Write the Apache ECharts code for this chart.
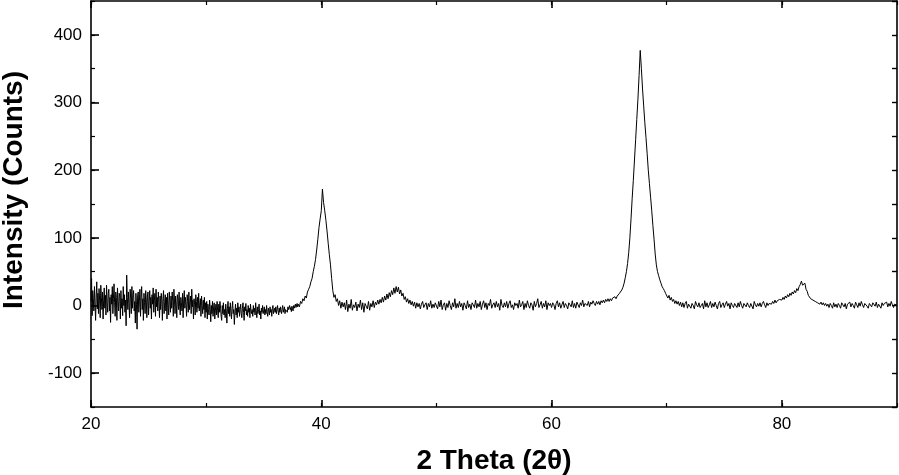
<!DOCTYPE html>
<html>
<head>
<meta charset="utf-8">
<script src="https://cdn.jsdelivr.net/npm/echarts@6.0.0/dist/echarts.min.js"></script>
<style>
html,body{margin:0;padding:0;background:#fff;}
#chart{width:899px;height:475px;}
</style>
</head>
<body>
<div id="chart"></div>
<script>
// Noisy low-angle part of the scan, 0.05° steps (20.00 – 37.95)
const denseStart = 20;
const denseStep = 0.05;
const int20to38 = [
  6, 40, -15, 22, 10, -8, 28, 2, -22, 14, 35, -5, 18, -12, 25, 8, -18, 30, 12, -6,
  20, -20, 8, 26, -4, 15, -14, 30, 5, -10, 18, 24, -8, 12, -25, 16, 2, 28, -12, 10,
  32, 4, -16, 20, 12, -22, 26, 6, -8, 18, 14, -20, 22, -4, 10, -15, 28, 0, 16, -10,
  8, -30, 45, 12, -6, 20, 3, -18, 24, 10, -12, 28, -4, 15, 22, -8, 6, -26, 18, 2,
  -35, 14, 20, -10, 6, 24, -16, 12, 28, -6, 10, -22, 18, 4, -12, 22, 8, -18, 14, 20,
  -14, 6, 22, -4, 12, -20, 16, 2, 26, -10, 8, 18, -16, 24, -2, 12, -8, 20, 4, -18,
  14, -6, 18, 8, -22, 10, 22, -12, 4, 16, -8, 12, -20, 18, 2, -14, 20, 6, -10, 14,
  -4, 20, 6, -16, 24, 8, -12, 14, 2, -18, 16, 10, -6, 20, -2, -14, 12, 4, -8, 18,
  -18, 8, 22, -4, 12, 2, -16, 16, 6, -10, 20, -6, 4, 14, -12, 24, -2, 8, -20, 10,
  2, -14, 16, 6, -10, 12, -4, 18, -8, 2, 10, -16, 14, 0, -12, 8, -6, 12, -18, 4,
  -10, 6, -20, 2, -6, -14, 8, -4, -24, 0, -12, 6, -16, -2, 4, -20, -8, 2, -14, 6,
  -8, -18, 2, -10, 6, -4, -16, -22, 0, -12, 4, -14, -6, -18, 2, -8, -26, -4, 6, -12,
  -2, -16, 4, -8, -20, -4, 6, -12, -6, -28, -10, 2, -14, -4, -18, 4, -10, -2, -16, -6,
  2, -12, -18, -4, 4, -10, -22, -2, -8, 3, -14, -6, -16, 0, -10, -4, -18, 2, -8, -12,
  -6, -16, 0, -10, -4, -14, 4, -8, -18, -2, -12, -6, 2, -14, -8, -20, -4, -10, 0, -12,
  -8, -2, -14, -6, -12, 0, -10, -16, -4, -8, -14, -2, -10, -6, -16, -4, 0, -12, -8, -4,
  -10, -2, -12, -6, 0, -8, -14, -4, -10, -2, -8, -12, -4, 0, -10, -6, -2, -12, -6, -8,
  -4, -10, -2, -6, -8, 0, -6, -3, -9, -1, -5, -8, 0, -4, -6, 2, -3, -1, 3, -2
];

// Rest of the scan, 0.1° steps (38.0 – 90.0)
const coarseStart = 38;
const coarseStep = 0.1;
const int38 = [
  2, -2, 6, 3, 10, 7, 14, 11, 20, 24,
  28, 35, 40, 50, 58, 68, 82, 98, 115, 128
];
const int40 = [
  140, 172, 152, 140, 126, 110, 92, 75, 60, 40,
  22, 12, 16, 6, 10, 0, 7, -4, 5, -2,
  4, -6, 8, -9, 2, -4, 9, -7, 1, -3,
  5, -8, 2, -3, 8, -6, 4, -10, 3, -1,
  -5, 6, -7, 3, -2, 7, -3, 5, 1, 8,
  2, 9, 4, 12, 5, 14, 8, 17, 10, 19,
  13, 22, 16, 26, 18, 28, 20, 27, 17, 23,
  14, 18, 9, 13, 5, 10, 3, 8, 1, 6,
  -1, 5, -4, 4, -2, 3, -5, 2, 6, -3,
  1, 4, -6, 3, -2, 7, -4, 2, -3, 4
];
const int50 = [
  3, -5, 6, -2, 8, -6, 1, 4, -7, 3,
  -3, 7, 0, -6, 4, -2, 10, -4, 3, -3,
  6, -2, 3, -7, 4, 0, -5, 7, -3, 2,
  -6, 4, 1, -3, 8, -4, 3, -2, 6, -6,
  2, 7, -3, 4, -6, 3, 0, 9, -4, 1,
  4, -3, 6, -2, 3, -7, 9, 0, -3, 4,
  -2, 6, -4, 3, 7, -3, 1, -6, 4, 0,
  3, -4, 8, -2, 1, 6, -6, 3, -3, 7,
  0, -4, 4, 1, -7, 6, -2, 3, 10, -3,
  1, 6, -4, 3, -2, 7, -6, 4, 0, 3
];
const int60 = [
  -3, 4, 1, -6, 3, 7, -2, 4, -4, 1,
  6, -3, 3, 0, -5, 4, 1, -2, 7, -3,
  3, -4, 5, 1, -3, 4, 0, 8, -2, 3,
  4, 0, 6, -2, 5, 2, 7, 3, 0, 6,
  2, 6, 1, 7, 4, 8, 4, 9, 6, 10,
  6, 10, 7, 11, 9, 13, 10, 14, 15, 18,
  20, 23, 27, 33, 41, 50, 62, 78, 100, 128,
  158, 185, 215, 245, 275, 305, 340, 377, 350, 320,
  295, 270, 248, 225, 200, 180, 160, 140, 118, 98,
  76, 60, 50, 44, 38, 33, 28, 25, 22, 18
];
const int70 = [
  17, 11, 15, 8, 12, 6, 9, 3, 7, 2,
  6, 0, 5, -2, 4, -3, 3, 6, -4, 2,
  4, -4, 3, 0, -5, 6, 1, -2, 4, -3,
  0, 3, -5, 7, -2, 4, -3, 1, 6, -3,
  3, -2, 5, 0, -5, 3, 6, -3, 1, 4,
  -3, 2, 6, -1, 3, -5, 4, 0, -3, 3,
  1, -3, 4, -2, 6, 0, -4, 3, 1, -2,
  4, 0, -3, 3, 1, -5, 6, 1, -2, 3,
  -1, 4, -2, 3, 6, 1, -3, 4, 0, 3,
  5, 2, 6, 3, 8, 4, 7, 6, 9, 11
];
const int80 = [
  8, 12, 9, 14, 11, 16, 13, 18, 15, 20,
  17, 22, 19, 25, 22, 28, 31, 36, 30, 28,
  33, 24, 21, 15, 14, 10, 11, 8, 9, 6,
  7, 4, 6, 2, 5, 1, 4, 0, 3, -1,
  2, -3, 3, 0, -4, 4, -2, 2, -3, 3,
  0, -4, 4, 1, -2, 3, -5, 2, 0, 5,
  -2, 3, 0, -4, 5, 1, -3, 4, -1, 6,
  1, -3, 3, 5, -1, -4, 3, 2, -2, 4,
  3, -1, 5, -3, 2, 1, -4, 4, 0, 3,
  1, 5, -2, 3, -1, 6, 1, -3, 2, 1
];
const int90 = [0];

// Tick labels
const xLabels = [20, 40, 60, 80];
const yLabels = [-100, 0, 100, 200, 300, 400];

const coarse = [].concat(int38, int40, int50, int60, int70, int80, int90);
const data = int20to38.map((v, i) => [+(denseStart + i * denseStep).toFixed(2), v])
  .concat(coarse.map((v, i) => [+(coarseStart + i * coarseStep).toFixed(1), v]));

const FONT = '"Liberation Sans", Arial, sans-serif';
const black = '#000';

const chart = echarts.init(document.getElementById('chart'), null, {renderer: 'canvas'});

const baseX = {
  type: 'value', min: 20, max: 90, interval: 10,
  splitLine: {show: false},
  axisLine: {show: false, onZero: false},
  axisLabel: {show: false},
  axisTick: {show: true, inside: true, length: 4, lineStyle: {color: black, width: 1.2}}
};
const baseY = {
  type: 'value', min: -150, max: 450, interval: 50,
  splitLine: {show: false},
  axisLine: {show: false, onZero: false},
  axisLabel: {show: false},
  axisTick: {show: true, inside: true, length: 4, lineStyle: {color: black, width: 1.2}}
};

chart.setOption({
  animation: false,
  backgroundColor: '#fff',
  grid: {left: 91, right: 2, top: 1, bottom: 68, containLabel: false, outerBoundsMode: 'none'},
  xAxis: [
    Object.assign({}, baseX, {
      position: 'bottom',
      axisLine: {show: true, onZero: false, lineStyle: {color: black, width: 1.6}},
      axisLabel: {
        show: true, color: black, fontSize: 17, fontFamily: FONT, margin: 9,
        formatter: v => xLabels.indexOf(v) >= 0 ? String(v) : ''
      },
      name: '2 Theta (2θ)', nameLocation: 'middle', nameGap: 40,
      nameTextStyle: {color: black, fontSize: 28, fontWeight: 'bold', fontFamily: FONT}
    }),
    Object.assign({}, baseX, {
      position: 'bottom',
      axisTick: {show: true, inside: true, length: 7, customValues: xLabels, lineStyle: {color: black, width: 1.6}}
    }),
    Object.assign({}, baseX, {
      position: 'top',
      axisLine: {show: true, onZero: false, lineStyle: {color: black, width: 1.6}}
    }),
    Object.assign({}, baseX, {
      position: 'top',
      axisTick: {show: true, inside: true, length: 7, customValues: xLabels, lineStyle: {color: black, width: 1.6}}
    })
  ],
  yAxis: [
    Object.assign({}, baseY, {
      position: 'left',
      axisLine: {show: true, onZero: false, lineStyle: {color: black, width: 1.6}},
      axisLabel: {
        show: true, color: black, fontSize: 17, fontFamily: FONT, margin: 9,
        formatter: v => yLabels.indexOf(v) >= 0 ? String(v) : ''
      }
    }),
    Object.assign({}, baseY, {
      position: 'left',
      axisTick: {show: true, inside: true, length: 8, customValues: yLabels, lineStyle: {color: black, width: 1.6}}
    }),
    Object.assign({}, baseY, {
      position: 'right',
      axisLine: {show: true, onZero: false, lineStyle: {color: black, width: 1.6}},
      axisTick: {show: true, inside: true, length: 5, lineStyle: {color: black, width: 1.4}}
    })
  ],
  graphic: [{
    type: 'text',
    x: 14, y: 190,
    rotation: Math.PI / 2,
    style: {
      text: 'Intensity (Counts)',
      fill: black,
      font: 'bold 28px ' + FONT,
      textAlign: 'center',
      textVerticalAlign: 'middle'
    }
  }],
  series: [{
    type: 'line',
    xAxisIndex: 0, yAxisIndex: 0,
    data: data,
    showSymbol: false,
    symbol: 'none',
    lineStyle: {color: '#000', width: 1},
    emphasis: {disabled: true},
    clip: true
  }]
});
</script>
</body>
</html>
